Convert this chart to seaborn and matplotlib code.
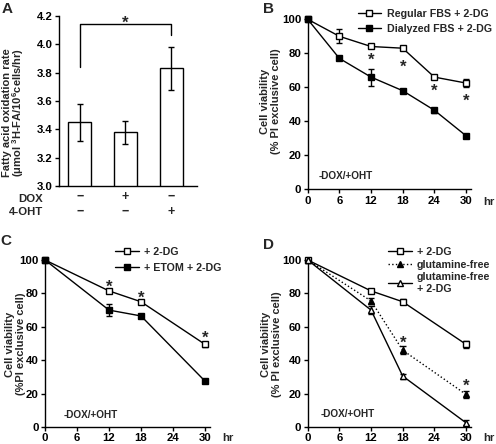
import numpy as np
import pandas as pd
import seaborn as sns
import matplotlib.pyplot as plt

# ---- data ----
# panel A: fatty acid oxidation
a_groups = ["ctrl", "dox", "oht"]
a_rate = [3.45, 3.38, 3.83]
a_err = [0.13, 0.08, 0.15]
a_dox = ["−", "+", "−"]
a_oht = ["−", "−", "+"]

# panel B
b_hours = [0, 6, 12, 18, 24, 30]
b_regular = [100, 90, 84, 83, 66, 62.5]
b_regular_err = [0, 4, 1, 1, 1, 2.5]
b_dialyzed = [100, 77, 66, 58, 46.5, 31.5]
b_dialyzed_err = [0, 1, 5, 1, 1.5, 1]
b_star_x = [12, 18, 24, 30]
b_star_y = [79, 75, 61, 55]

# panel C
c_hours = [0, 12, 18, 30]
c_2dg = [100, 81.5, 75, 49.5]
c_2dg_err = [0, 1, 1, 1.5]
c_etom = [100, 70, 66.5, 27.5]
c_etom_err = [0, 3.5, 1, 1]
c_star_x = [12, 18, 30]
c_star_y = [87, 80.5, 56]

# panel D
d_hours = [0, 12, 18, 30]
d_2dg = [100, 81.5, 75, 49.5]
d_2dg_err = [0, 1, 1.5, 2]
d_glnfree = [100, 75.5, 46, 19.5]
d_glnfree_err = [0, 2, 2.5, 2]
d_gln_2dg = [100, 70, 30.5, 2.5]
d_gln_2dg_err = [0, 2.5, 1.5, 1.5]
d_star_x = [18, 30]
d_star_y = [53, 27.5]

time_ticks = [0, 6, 12, 18, 24, 30]

sns.set_style("ticks")
plt.rcParams["font.family"] = ["Liberation Sans", "DejaVu Sans"]
plt.rcParams["font.weight"] = "bold"
plt.rcParams["mathtext.fontset"] = "custom"
plt.rcParams["mathtext.rm"] = "Liberation Sans:bold"
plt.rcParams["mathtext.bf"] = "Liberation Sans:bold"

W, H = 496, 444
TICK_FS = 8.2
LAB_FS = 8
fig = plt.figure(figsize=(W / 100, H / 100), dpi=100)


def px_axes(left, top, right, bottom):
    return fig.add_axes([left / W, 1 - bottom / H, (right - left) / W, (bottom - top) / H])


def ftext(x, y, s, **kw):
    kw.setdefault("fontweight", "bold")
    return fig.text(x / W, 1 - y / H, s, **kw)


def style_axes(ax):
    sns.despine(ax=ax)
    for s in ("left", "bottom"):
        ax.spines[s].set_linewidth(1.0)
        ax.spines[s].set_color("black")
    ax.tick_params(axis="both", direction="out", length=3, width=1,
                   labelsize=TICK_FS, pad=1.5, colors="black")
    for lab in ax.get_xticklabels() + ax.get_yticklabels():
        lab.set_fontweight("bold")


def time_panel(ax):
    ax.set_xlim(0, 31)
    ax.set_ylim(0, 100)
    ax.set_xticks(time_ticks)
    ax.set_yticks([0, 20, 40, 60, 80, 100])
    ax.set_xlabel("")
    ax.set_ylabel("")
    style_axes(ax)


def series(ax, x, y, err, marker, face, label, ls="-"):
    ax.errorbar(x, y, yerr=err, fmt="none", ecolor="black", elinewidth=1,
                capsize=2, capthick=1, zorder=2, clip_on=False)
    sns.lineplot(x=x, y=y, ax=ax, color="black", linewidth=1, linestyle=ls,
                 marker=marker, markersize=5, markerfacecolor=face,
                 markeredgecolor="black", markeredgewidth=1, label=label,
                 clip_on=False, zorder=3)


def stars(ax, xs, ys):
    for x, y in zip(xs, ys):
        ax.annotate("*", xy=(x, y), xytext=(0, -7), textcoords="offset points",
                    ha="center", va="baseline", fontsize=12, fontweight="bold")


def legend(ax, left, top, spacing):
    h, l = ax.get_legend_handles_labels()
    leg = ax.legend(h, l, loc="upper left",
                    bbox_to_anchor=(left / W, 1 - top / H),
                    bbox_transform=fig.transFigure, frameon=False,
                    fontsize=7.7, handlelength=2.2, handletextpad=0.5,
                    borderaxespad=0, borderpad=0, labelspacing=spacing,
                    markerscale=0.8)
    for t in leg.get_texts():
        t.set_fontweight("bold")


def ylabel2(x1, x2, y, line1, line2):
    ftext(x1, y, line1, rotation=90, ha="center", va="center", fontsize=LAB_FS)
    ftext(x2, y, line2, rotation=90, ha="center", va="center", fontsize=LAB_FS)


# ---- A ----
axA = px_axes(59, 16, 197, 186)
dfA = pd.DataFrame({"group": a_groups, "rate": a_rate})
sns.barplot(data=dfA, x="group", y="rate", ax=axA, color="white",
            edgecolor="black", linewidth=1, width=0.5)
axA.errorbar(range(3), a_rate, yerr=a_err, fmt="none", ecolor="black",
             elinewidth=1, capsize=2.5, capthick=1)
axA.set_xlim(-0.45, 2.56)
axA.set_ylim(3.0, 4.2)
axA.set_yticks(np.arange(3.0, 4.21, 0.2))
axA.set_yticklabels([f"{v:.1f}" for v in np.arange(3.0, 4.21, 0.2)])
axA.set_xticks([])
axA.set_xlabel("")
axA.set_ylabel("")
style_axes(axA)
axA.plot([0, 0, 2, 2], [3.84, 4.145, 4.145, 4.065], color="black", lw=1,
         clip_on=False)
axA.annotate("*", xy=(1, 4.185), xytext=(0, -7), textcoords="offset points",
             ha="center", va="baseline", fontsize=12, fontweight="bold",
             annotation_clip=False)
for i, (d, o) in enumerate(zip(a_dox, a_oht)):
    axA.annotate(d, xy=(i, 0), xycoords=("data", "axes fraction"),
                 xytext=(0, -7.8), textcoords="offset points", ha="center",
                 va="center", fontsize=9, fontweight="bold",
                 annotation_clip=False)
    axA.annotate(o, xy=(i, 0), xycoords=("data", "axes fraction"),
                 xytext=(0, -18.5), textcoords="offset points", ha="center",
                 va="center", fontsize=9, fontweight="bold",
                 annotation_clip=False)
ftext(43, 199, "DOX", ha="right", va="center", fontsize=TICK_FS)
ftext(43, 212, "4-OHT", ha="right", va="center", fontsize=TICK_FS)
ylabel2(7, 18.5, 113, "Fatty acid oxidation rate",
        "(μmol $^{3}$H-FA/10$^{6}$cells/hr)")

# ---- B ----
axB = px_axes(307.7, 19.3, 471.3, 189.3)
series(axB, b_hours, b_regular, b_regular_err, "s", "white",
       "Regular FBS + 2-DG")
series(axB, b_hours, b_dialyzed, b_dialyzed_err, "s", "black",
       "Dialyzed FBS + 2-DG")
time_panel(axB)
stars(axB, b_star_x, b_star_y)
axB.text(2.0, 7.8, "-DOX/+OHT", ha="left", va="center", fontsize=7.2,
         fontweight="bold")
legend(axB, 357.7, 9, 0.45)
ftext(495, 202, "hr", ha="right", va="center", fontsize=TICK_FS)
ylabel2(264.5, 276, 101, "Cell viability", "(% PI exclusive cell)")

# ---- C ----
axC = px_axes(45, 260, 210.3, 427)
series(axC, c_hours, c_2dg, c_2dg_err, "s", "white", "+ 2-DG")
series(axC, c_hours, c_etom, c_etom_err, "s", "black", "+ ETOM + 2-DG")
time_panel(axC)
stars(axC, c_star_x, c_star_y)
axC.text(3.4, 7.4, "-DOX/+OHT", ha="left", va="center", fontsize=7.2,
         fontweight="bold")
legend(axC, 115, 247, 0.55)
ftext(222, 438, "hr", ha="left", va="center", fontsize=TICK_FS)
ylabel2(10, 21.5, 344, "Cell viability", "(%PI exclusive cell)")

# ---- D ----
axD = px_axes(307.7, 260, 471.3, 427)
series(axD, d_hours, d_2dg, d_2dg_err, "s", "white", "+ 2-DG")
series(axD, d_hours, d_glnfree, d_glnfree_err, "^", "black",
       "glutamine-free", ls=":")
series(axD, d_hours, d_gln_2dg, d_gln_2dg_err, "^", "white",
       "glutamine-free\n+ 2-DG")
time_panel(axD)
stars(axD, d_star_x, d_star_y)
axD.text(2.5, 7.8, "-DOX/+OHT", ha="left", va="center", fontsize=7.2,
         fontweight="bold")
legend(axD, 388, 247, 0.25)
ftext(495, 438, "hr", ha="right", va="center", fontsize=TICK_FS)
ylabel2(266, 277.5, 344, "Cell viability", "(% PI exclusive cell)")

# panel letters
for lbl, x, y in [("A", 2, 2), ("B", 263, 2), ("C", 0, 234), ("D", 263, 238)]:
    ftext(x, y, lbl, ha="left", va="top", fontsize=11)

fig.savefig("out.png", dpi=100)
